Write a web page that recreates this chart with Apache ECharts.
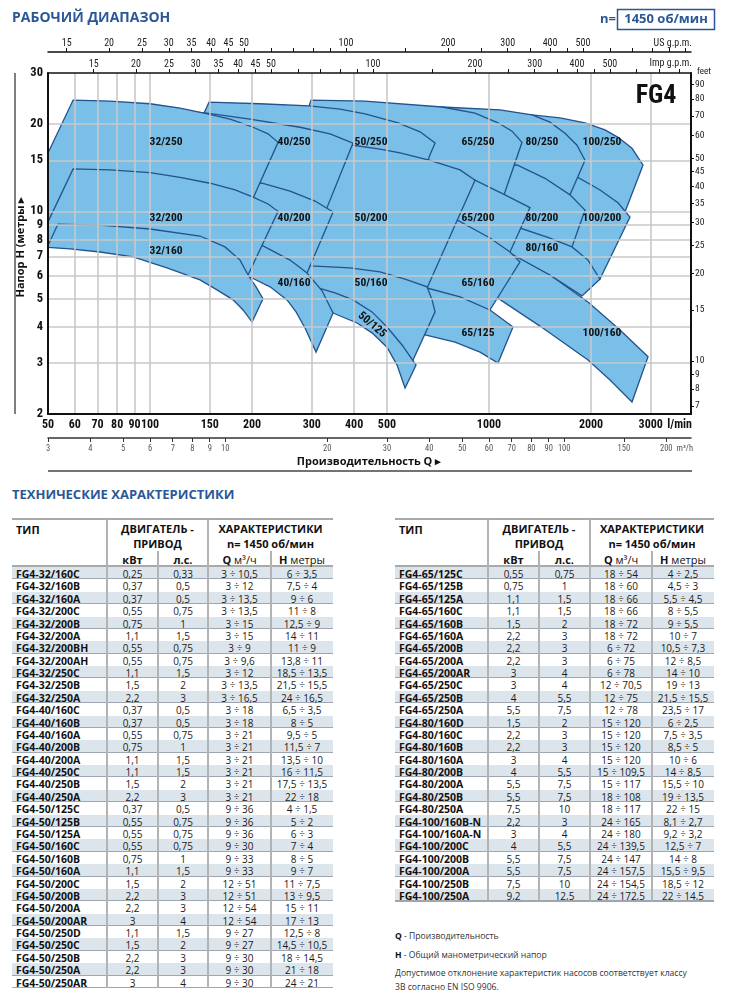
<!DOCTYPE html>
<html><head><meta charset="utf-8">
<script src="https://cdn.jsdelivr.net/npm/echarts@6/dist/echarts.min.js"></script>
<style>
html,body{margin:0;padding:0;background:#fff;}
body{width:730px;height:1002px;position:relative;overflow:hidden;font-family:'Open Sans',sans-serif;color:#111;}
#chart{position:absolute;left:0;top:0;width:730px;height:480px;}
.t{position:absolute;white-space:nowrap;}
</style></head>
<body>
<div id="chart"></div>
<script>
// ---------- axis ticks / labels ----------
const qLabels = [50,60,70,80,90,100,150,200,300,400,500,1000,2000,3000];
const qGrid = [60,70,80,90,100,150,200,300,400,500,1000,2000,3000];
const hLabels = [2,3,4,5,6,7,8,9,10,15,20,30];
const hGrid = [3,4,5,6,7,8,9,10,15,20];
const usLabels = [15,20,25,30,35,40,45,50,100,200,300,400,500];
const usTicks = [15,20,25,30,35,40,45,50,60,70,80,90,100,150,200,250,300,350,400,450,500,600,700,800,900,1000];
const impLabels = [15,20,25,30,35,40,45,50,100,200,300,400,500];
const impTicks = [15,20,25,30,35,40,45,50,60,70,80,90,100,150,200,250,300,350,400,450,500,600,700,800];
const m3hLabels = [3,4,5,6,7,8,9,10,20,30,40,50,60,70,80,90,100,150,200];
const feetLabels = [7,8,9,10,15,20,25,30,35,40,45,50,60,70,80,90];

// ---------- regions: [Q l/min, H m] ----------
const r32_250 = [[48.7,14.9],[59.3,24.2],[76.2,24.0],[100,23.5],[122.6,22.7],[144.3,21.8],[172.2,20.8],[201.4,19.5],[222.9,18.5],[238.6,17.3],[202.7,11.3],[194.6,10.3],[140.4,11.0],[100,11.6],[71.2,10.9],[54.3,9.5],[48.7,8.35]];
const r32_200 = [[48.7,8.62],[59.3,14.0],[76.2,13.9],[100,13.6],[122.6,13.1],[150.3,12.5],[178.2,11.85],[201.4,11.2],[222.9,10.6],[238.6,10.0],[194.6,6.03],[186.8,5.49],[140.4,6.63],[100,7.54],[71.2,7.84],[54.3,7.72],[50,7.54],[48.7,7.42]];
const r32_160 = [[49.7,7.51],[53.5,9.04],[71.2,8.97],[100,8.69],[140.4,8.22],[166.4,7.54],[184.3,6.79],[194.6,6.03],[205.5,5.49],[215.4,4.99],[200,4.15],[188.1,4.57],[175.8,4.95],[157.6,5.36],[140.4,5.80],[112.2,6.38],[89.1,6.96],[71.2,7.24],[58.1,7.42]];
const r40_250 = [[100,11.4],[100,22.4],[122.6,22.2],[147.3,21.8],[197.3,20.8],[276.9,19.5],[339.7,18.5],[397,17.2],[332.8,10.3],[321.7,9.19],[241.8,10.4],[184.3,10.9]];
const r40_200 = [[100,7.36],[100,13.0],[140.4,12.9],[184.3,12.8],[214,12.5],[258.9,11.75],[306.7,10.85],[346.7,9.95],[290.5,6.13],[280.7,5.57],[226,6.58],[184.3,7.01]];
const r40_160 = [[100,7.07],[100,9.19],[140.4,8.76],[184.3,8.16],[215.4,7.60],[258.9,6.79],[290.5,6.13],[321.7,5.32],[346.7,4.46],[308.8,3.27],[286.6,3.96],[269.6,4.50],[253.6,4.95],[226,5.49],[200,5.89],[160.9,6.53]];
const r50_250 = [[128.6,16.3],[149.3,23.8],[211.1,23.5],[294.5,23.1],[363.6,22.5],[430.8,21.7],[539.2,20.2],[626,18.8],[693.2,17.2],[665.5,15.4],[652.1,14.3],[546.5,15.0],[397,15.6],[276.9,16.3]];
const r50_200 = [[149.3,17.6],[211.1,17.3],[276.9,17.3],[339.7,17.2],[397,16.9],[476.9,16.4],[546.5,15.9],[670,15.0],[821.3,13.9],[909.4,12.8],[656.5,5.44],[634.6,5.03],[476.9,5.57],[339.7,5.80],[211.1,6.79]];
const r50_160 = [[233.8,5.57],[226,6.69],[296.5,6.48],[389,6.38],[476.9,6.18],[565.4,5.84],[656.5,5.49],[679.2,4.95],[693.2,4.50],[597,3.07],[584.9,2.88],[493.4,3.75],[402.5,4.50],[328.3,4.95]];
const r50_125 = [[267.7,4.95],[267.7,5.57],[313,5.44],[351.4,5.23],[397,4.95],[451.7,4.50],[500.2,3.99],[554,3.46],[609.2,2.95],[565.4,2.46],[535.5,2.95],[500.2,3.40],[451.7,3.81],[408,4.12],[346.7,4.46],[296.5,4.64]];
const r65_250 = [[248.5,12.8],[298.5,24.2],[430.8,24.0],[726.9,22.9],[909.4,21.8],[1063,20.2],[1169.1,18.9],[1251.2,17.3],[1114.8,11.66],[1077.6,10.5],[821.3,11.4],[546.5,12.3]];
const r65_200 = [[363.6,13.3],[546.5,13.1],[767.4,13.0],[909.4,12.8],[1114.8,11.4],[1321.1,10.3],[1153.3,7.24],[1114.8,6.69],[879,7.66],[670,7.97]];
const r65_160 = [[546.5,5.15],[546.5,9.19],[804.7,9.34],[1006.8,8.09],[1153.3,7.24],[1234.3,6.69],[1006.8,4.57],[993.2,4.36],[821.3,4.75],[670,5.11]];
const r65_125 = [[546.5,3.90],[546.5,5.57],[656.5,5.44],[821.3,5.07],[1006.8,4.57],[1177,3.99],[1063,3.0],[940.8,3.27],[793.9,3.54],[647.6,3.75]];
const r80_250 = [[339.7,22.0],[546.5,22.4],[726.9,22.9],[1077.6,22.4],[1339.2,21.5],[1513.3,20.3],[1675.9,18.6],[1818,16.9],[1919.7,15.0],[1733.8,11.4],[1687,10.5],[1234.3,12.8],[767.4,12.3]];
const r80_200 = [[717.1,13.9],[1006.8,14.2],[1209.4,14.45],[1462.8,13.0],[1733.8,11.4],[1919.7,10.1],[1757.5,7.54],[1710.4,6.96],[1414,7.66],[1077.6,8.29]];
const r80_160 = [[879,8.49],[1234.3,8.76],[1513.3,8.09],[1757.5,7.54],[1959.2,6.79],[2125.6,5.84],[1881,5.11],[1513.3,6.03],[1153.3,7.18],[940.8,7.36]];
const r100_250 = [[626,12.8],[626,21.5],[940.8,21.7],[1339.2,21.5],[1620.1,21.0],[1919.7,20.2],[2199,19.1],[2402,18.0],[2641.5,16.5],[2847.1,14.45],[2518.9,9.95],[2434.8,8.97],[1830.6,11.85],[1234.3,13.0]];
const r100_200 = [[1077.6,12.8],[1830.6,13.1],[2125.6,11.85],[2402,10.7],[2605.8,9.56],[2125.6,5.84],[1986,5.71],[1414,7.36],[1077.6,7.66]];
const r100_160 = [[879,7.07],[1153.3,7.18],[1513.3,6.03],[1959.2,4.87],[2434.8,3.90],[2945.6,3.15],[2641.5,2.20],[2275,2.62],[1959.2,3.07],[1414,4.02],[1027.5,5.15],[909.4,5.36]];

// drawing order: bottom first
const regionShapes = [r100_250,r100_200,r100_160,r80_250,r80_200,r80_160,r65_250,r65_200,r65_160,r65_125,r50_250,r50_200,r50_160,r50_125,r40_250,r40_200,r40_160,r32_250,r32_200,r32_160];

// labels: [text, Q, H, rotation(deg)]
const regionLabels = [
 ['32/250',111.5,17.3,0],['40/250',266,17.3,0],['50/250',448.7,17.3,0],['65/250',928,17.3,0],['80/250',1433,17.3,0],['100/250',2154,17.3,0],
 ['32/200',111.5,9.49,0],['40/200',266,9.49,0],['50/200',448.7,9.49,0],['65/200',928,9.49,0],['80/200',1433,9.49,0],['100/200',2154,9.49,0],
 ['32/160',111.5,7.30,0],['40/160',266,5.66,0],['50/160',448.7,5.66,0],['65/160',928,5.66,0],['80/160',1433,7.48,0],['100/160',2154,3.81,0],
 ['65/125',928,3.81,0],['50/125',451.7,4.06,-40]
];

// ---------- table data ----------
const leftRows = [
 ['FG4-32/160C','0,25','0,33','3 ÷ 10,5','6 ÷ 3,5'],
 ['FG4-32/160B','0,37','0,5','3 ÷ 12','7,5 ÷ 4'],
 ['FG4-32/160A','0,37','0,5','3 ÷ 13,5','9 ÷ 6'],
 ['FG4-32/200C','0,55','0,75','3 ÷ 13,5','11 ÷ 8'],
 ['FG4-32/200B','0,75','1','3 ÷ 15','12,5 ÷ 9'],
 ['FG4-32/200A','1,1','1,5','3 ÷ 15','14 ÷ 11'],
 ['FG4-32/200BH','0,55','0,75','3 ÷ 9','11 ÷ 9'],
 ['FG4-32/200AH','0,55','0,75','3 ÷ 9,6','13,8 ÷ 11'],
 ['FG4-32/250C','1,1','1,5','3 ÷ 12','18,5 ÷ 13,5'],
 ['FG4-32/250B','1,5','2','3 ÷ 13,5','21,5 ÷ 15,5'],
 ['FG4-32/250A','2,2','3','3 ÷ 16,5','24 ÷ 16,5'],
 ['FG4-40/160C','0,37','0,5','3 ÷ 18','6,5 ÷ 3,5'],
 ['FG4-40/160B','0,37','0,5','3 ÷ 18','8 ÷ 5'],
 ['FG4-40/160A','0,55','0,75','3 ÷ 21','9,5 ÷ 5'],
 ['FG4-40/200B','0,75','1','3 ÷ 21','11,5 ÷ 7'],
 ['FG4-40/200A','1,1','1,5','3 ÷ 21','13,5 ÷ 10'],
 ['FG4-40/250C','1,1','1,5','3 ÷ 21','16 ÷ 11,5'],
 ['FG4-40/250B','1,5','2','3 ÷ 21','17,5 ÷ 13,5'],
 ['FG4-40/250A','2,2','3','3 ÷ 21','22 ÷ 18'],
 ['FG4-50/125C','0,37','0,5','9 ÷ 36','4 ÷ 1,5'],
 ['FG4-50/125B','0,55','0,75','9 ÷ 36','5 ÷ 2'],
 ['FG4-50/125A','0,55','0,75','9 ÷ 36','6 ÷ 3'],
 ['FG4-50/160C','0,55','0,75','9 ÷ 30','7 ÷ 4'],
 ['FG4-50/160B','0,75','1','9 ÷ 33','8 ÷ 5'],
 ['FG4-50/160A','1,1','1,5','9 ÷ 33','9 ÷ 7'],
 ['FG4-50/200C','1,5','2','12 ÷ 51','11 ÷ 7,5'],
 ['FG4-50/200B','2,2','3','12 ÷ 51','13 ÷ 9,5'],
 ['FG4-50/200A','2,2','3','12 ÷ 54','15 ÷ 11'],
 ['FG4-50/200AR','3','4','12 ÷ 54','17 ÷ 13'],
 ['FG4-50/250D','1,1','1,5','9 ÷ 27','12,5 ÷ 8'],
 ['FG4-50/250C','1,5','2','9 ÷ 27','14,5 ÷ 10,5'],
 ['FG4-50/250B','2,2','3','9 ÷ 30','18 ÷ 14,5'],
 ['FG4-50/250A','2,2','3','9 ÷ 30','21 ÷ 18'],
 ['FG4-50/250AR','3','4','9 ÷ 30','24 ÷ 21']
];
const rightRows = [
 ['FG4-65/125C','0,55','0,75','18 ÷ 54','4 ÷ 2,5'],
 ['FG4-65/125B','0,75','1','18 ÷ 60','4,5 ÷ 3'],
 ['FG4-65/125A','1,1','1,5','18 ÷ 66','5,5 ÷ 4,5'],
 ['FG4-65/160C','1,1','1,5','18 ÷ 66','8 ÷ 5,5'],
 ['FG4-65/160B','1,5','2','18 ÷ 72','9 ÷ 5,5'],
 ['FG4-65/160A','2,2','3','18 ÷ 72','10 ÷ 7'],
 ['FG4-65/200B','2,2','3','6 ÷ 72','10,5 ÷ 7,3'],
 ['FG4-65/200A','2,2','3','6 ÷ 75','12 ÷ 8,5'],
 ['FG4-65/200AR','3','4','6 ÷ 78','14 ÷ 10'],
 ['FG4-65/250C','3','4','12 ÷ 70,5','19 ÷ 13'],
 ['FG4-65/250B','4','5,5','12 ÷ 75','21,5 ÷ 15,5'],
 ['FG4-65/250A','5,5','7,5','12 ÷ 78','23,5 ÷ 17'],
 ['FG4-80/160D','1,5','2','15 ÷ 120','6 ÷ 2,5'],
 ['FG4-80/160C','2,2','3','15 ÷ 120','7,5 ÷ 3,5'],
 ['FG4-80/160B','2,2','3','15 ÷ 120','8,5 ÷ 5'],
 ['FG4-80/160A','3','4','15 ÷ 120','10 ÷ 6'],
 ['FG4-80/200B','4','5,5','15 ÷ 109,5','14 ÷ 8,5'],
 ['FG4-80/200A','5,5','7,5','15 ÷ 117','15,5 ÷ 10'],
 ['FG4-80/250B','5,5','7,5','18 ÷ 108','19 ÷ 13,5'],
 ['FG4-80/250A','7,5','10','18 ÷ 117','22 ÷ 15'],
 ['FG4-100/160B-N','2,2','3','24 ÷ 165','8,1 ÷ 2,7'],
 ['FG4-100/160A-N','3','4','24 ÷ 180','9,2 ÷ 3,2'],
 ['FG4-100/200C','4','5,5','24 ÷ 139,5','12,5 ÷ 7'],
 ['FG4-100/200B','5,5','7,5','24 ÷ 147','14 ÷ 8'],
 ['FG4-100/200A','5,5','7,5','24 ÷ 157,5','15,5 ÷ 9,5'],
 ['FG4-100/250B','7,5','10','24 ÷ 154,5','18,5 ÷ 12'],
 ['FG4-100/250A','9,2','12,5','24 ÷ 172,5','22 ÷ 14,5']
];

// ---------- unit conversion constants ----------
const QMIN = 50, QMAX = 3944, HMIN = 2, HMAX = 30;
const US = 3.78541, IMP = 4.54609, M3H = 0.06, FT = 3.28084;

const NARROW = "'Liberation Sans Narrow','Arial Narrow','Roboto Condensed','DejaVu Sans Condensed',Roboto,sans-serif";
const BLUE = '#2b5797';
const plain = v => String(Math.round(v * 1000) / 1000);

const chart = echarts.init(document.getElementById('chart'), null, {renderer:'canvas'});

function smallAxis(extra) {
  return Object.assign({
    type:'log', gridIndex:0, z:3,
    axisLine:{show:true, onZero:false, lineStyle:{color:'#111', width:1.5}},
    splitLine:{show:false}
  }, extra);
}

const option = {
  animation:false,
  grid:{left:48, top:73, width:643, height:341, containLabel:false},
  xAxis:[
    {type:'log', min:QMIN, max:QMAX, position:'bottom', z:3,
     axisLine:{show:true, onZero:false, lineStyle:{color:'#111', width:2}},
     axisTick:{show:false, customValues:qGrid},
     splitLine:{show:true, lineStyle:{color:'#c8c8c8', width:1.6}},
     axisLabel:{customValues:qLabels, formatter:plain, margin:5, fontFamily:NARROW, fontWeight:'bold', fontSize:12, color:'#111'}},
    smallAxis({min:QMIN/IMP, max:QMAX/IMP, position:'top', offset:0,
     axisTick:{show:true, customValues:impTicks, length:4, lineStyle:{color:'#111', width:1}},
     axisLabel:{customValues:impLabels, formatter:plain, margin:4, fontFamily:NARROW, fontSize:10, color:'#222'}}),
    smallAxis({min:QMIN/US, max:QMAX/US, position:'top', offset:21,
     axisTick:{show:true, customValues:usTicks, length:4, lineStyle:{color:'#111', width:1}},
     axisLabel:{customValues:usLabels, formatter:plain, margin:4, fontFamily:NARROW, fontSize:10, color:'#222'}}),
    smallAxis({min:QMIN*M3H, max:QMAX*M3H, position:'bottom', offset:24,
     axisLine:{show:true, onZero:false, lineStyle:{color:'#333', width:1.5}},
     axisTick:{show:true, customValues:m3hLabels, length:4, lineStyle:{color:'#333', width:1}},
     axisLabel:{customValues:m3hLabels, formatter:plain, margin:6, fontFamily:NARROW, fontSize:8.5, color:'#555'}})
  ],
  yAxis:[
    {type:'log', min:HMIN, max:HMAX, position:'left', z:3,
     axisLine:{show:true, onZero:false, lineStyle:{color:'#111', width:2}},
     axisTick:{show:false, customValues:hGrid},
     splitLine:{show:true, lineStyle:{color:'#c8c8c8', width:1.6}},
     axisLabel:{customValues:hLabels, formatter:plain, margin:5, fontFamily:NARROW, fontWeight:'bold', fontSize:12.5, color:'#111'}},
    smallAxis({min:HMIN*FT, max:HMAX*FT, position:'right',
     axisLine:{show:true, onZero:false, lineStyle:{color:'#111', width:2}},
     axisTick:{show:true, customValues:feetLabels, length:3, lineStyle:{color:'#111', width:1}},
     axisLabel:{customValues:feetLabels, formatter:plain, margin:4, fontFamily:NARROW, fontSize:9.5, color:'#222'}})
  ],
  series:[
    {type:'custom', name:'regions', coordinateSystem:'cartesian2d', xAxisIndex:0, yAxisIndex:0, clip:true, z:2,
     data: regionShapes.map(s => [s[1][0], s[1][1]]),
     renderItem:function(params, api){
       const pts = regionShapes[params.dataIndex].map(p => api.coord(p));
       return {type:'polygon', shape:{points:pts},
         style:{fill:'#79bfe8', stroke:'#23528f', lineWidth:1.3, lineJoin:'miter', miterLimit:3}};
     }},
    {type:'custom', name:'labels', coordinateSystem:'cartesian2d', xAxisIndex:0, yAxisIndex:0, z:5,
     data: regionLabels.map(l => [l[1], l[2]]),
     renderItem:function(params, api){
       const l = regionLabels[params.dataIndex];
       const c = api.coord([l[1], l[2]]);
       return {type:'text', x:c[0], y:c[1], rotation:l[3]*Math.PI/180,
         style:{text:l[0], font:'bold 11.5px ' + NARROW, fill:'#111', align:'center', verticalAlign:'middle', textAlign:'center', textVerticalAlign:'middle'}};
     }}
  ],
  graphic:[
    {type:'text', x:12, y:18, z:10, style:{text:'РАБОЧИЙ ДИАПАЗОН', font:"bold 14px 'Open Sans'", fill:BLUE, align:'left', verticalAlign:'middle', textAlign:'left', textVerticalAlign:'middle'}},
    {type:'text', x:616, y:19.5, z:10, style:{text:'n=', font:"bold 13px 'Open Sans'", fill:BLUE, align:'right', verticalAlign:'middle', textAlign:'right', textVerticalAlign:'middle'}},
    {type:'rect', z:10, shape:{x:617.5, y:9.5, width:97, height:20}, style:{fill:'#fff', stroke:BLUE, lineWidth:1.5}},
    {type:'text', x:666, y:19.5, z:11, style:{text:'1450 об/мин', font:"bold 13px 'Open Sans'", fill:BLUE, align:'center', verticalAlign:'middle', textAlign:'center', textVerticalAlign:'middle'}},
    {type:'text', x:656, y:96, z:10, style:{text:'FG4', font:'bold 26px ' + NARROW, fill:'#111', align:'center', verticalAlign:'middle', textAlign:'center', textVerticalAlign:'middle'}},
    {type:'text', x:692, y:43, z:10, style:{text:'US g.p.m.', font:'10px ' + NARROW, fill:'#222', align:'right', verticalAlign:'middle', textAlign:'right', textVerticalAlign:'middle'}},
    {type:'text', x:692, y:63, z:10, style:{text:'Imp g.p.m.', font:'10px ' + NARROW, fill:'#222', align:'right', verticalAlign:'middle', textAlign:'right', textVerticalAlign:'middle'}},
    {type:'text', x:697, y:72, z:10, style:{text:'feet', font:'9px ' + NARROW, fill:'#222', align:'left', verticalAlign:'middle', textAlign:'left', textVerticalAlign:'middle'}},
    {type:'text', x:692, y:425, z:10, style:{text:'l/min', font:'bold 12px ' + NARROW, fill:'#111', align:'right', verticalAlign:'middle', textAlign:'right', textVerticalAlign:'middle', backgroundColor:'#fff'}},
    {type:'text', x:693, y:449, z:10, style:{text:'m³/h', font:'8.5px ' + NARROW, fill:'#555', align:'right', verticalAlign:'middle', textAlign:'right', textVerticalAlign:'middle', backgroundColor:'#fff'}},
    {type:'text', x:369, y:461.5, z:10, style:{text:'Производительность Q ▸', font:"bold 11px 'Open Sans'", fill:'#111', align:'center', verticalAlign:'middle', textAlign:'center', textVerticalAlign:'middle'}},
    {type:'line', z:10, shape:{x1:48, y1:471, x2:692, y2:471}, style:{stroke:'#444', lineWidth:1.5}},
    {type:'line', z:10, shape:{x1:15, y1:73, x2:15, y2:414}, style:{stroke:'#555', lineWidth:1.5}},
    {type:'text', x:21, y:247, rotation:Math.PI/2, z:10, style:{text:'Напор H (метры ▸', font:"bold 11px 'Open Sans'", fill:'#111', align:'center', verticalAlign:'middle', textAlign:'center', textVerticalAlign:'middle'}}
  ]
};
chart.setOption(option);

// ---------- tables ----------
const RH = 12.38, ROW0 = 567;
function add(css, html) {
  const d = document.createElement('div');
  d.className = 't';
  d.style.cssText = css;
  if (html != null) d.innerHTML = html;
  document.body.appendChild(d);
  return d;
}
function buildTable(b, rows) {
  const W = b[5] - b[0];
  const end = ROW0 + rows.length * RH;
  rows.forEach((r, i) => {
    const top = ROW0 + i * RH;
    if (i % 2 === 0) {
      add(`left:${b[0]}px;top:${top}px;width:${W}px;height:${RH}px;background:#dde5ec;`);
      add(`left:${b[0]}px;top:${top + RH - 1}px;width:${W}px;height:1px;background:#9ea7b1;`);
    }
    add(`left:${b[0] + 4}px;top:${top}px;height:${RH}px;line-height:${RH}px;font:bold 10.5px 'Open Sans';color:#111;`, r[0]);
    for (let c = 1; c <= 4; c++) {
      add(`left:${b[c]}px;width:${b[c + 1] - b[c]}px;top:${top}px;height:${RH}px;line-height:${RH}px;text-align:center;font:10px 'Open Sans';color:#1a1a1a;`, r[c]);
    }
  });
  add(`left:${b[0]}px;top:${end - 1}px;width:${W}px;height:1.5px;background:#9ea7b1;`);
  // header
  add(`left:${b[0]}px;top:518px;width:${W}px;height:2px;background:#a9a9a9;`);
  add(`left:${b[0]}px;top:565px;width:${W}px;height:2px;background:#a9a9a9;`);
  add(`left:${b[0] + 4}px;top:522px;line-height:13px;font:bold 11px 'Open Sans';color:#111;`, 'ТИП');
  const hdr = (xa, xb, y, html, w) => add(`left:${xa}px;width:${xb - xa}px;top:${y - 7}px;height:14px;line-height:14px;text-align:center;font:${w} 11px 'Open Sans';color:#111;`, html);
  hdr(b[1], b[3], 528, 'ДВИГАТЕЛЬ -', 'bold');
  hdr(b[1], b[3], 543, 'ПРИВОД', 'bold');
  hdr(b[3], b[5], 528, 'ХАРАКТЕРИСТИКИ', 'bold');
  hdr(b[3], b[5], 543, 'n= 1450 об/мин', 'bold');
  hdr(b[1], b[2], 559, 'кВт', 'bold');
  hdr(b[2], b[3], 559, 'л.с.', 'bold');
  hdr(b[3], b[4], 559, '<b>Q</b> м³/ч', 'normal');
  hdr(b[4], b[5], 559, '<b>H</b> метры', 'normal');
  // vertical lines
  add(`left:${b[1] - 0.75}px;top:519px;width:1.5px;height:${end - 519}px;background:#b3b3b3;`);
  add(`left:${b[3] - 0.75}px;top:519px;width:1.5px;height:${end - 519}px;background:#b3b3b3;`);
  add(`left:${b[2] - 0.75}px;top:551px;width:1.5px;height:${end - 551}px;background:#b3b3b3;`);
  add(`left:${b[4] - 0.75}px;top:551px;width:1.5px;height:${end - 551}px;background:#b3b3b3;`);
}
add(`left:12px;top:485px;line-height:18px;font:bold 13px 'Open Sans';color:${BLUE};`, 'ТЕХНИЧЕСКИЕ ХАРАКТЕРИСТИКИ');
buildTable([12,107,158,208,271,333], leftRows);
buildTable([395,488,539,590,652,714], rightRows);
add(`left:395px;top:930px;line-height:14px;font:8.6px 'Open Sans';color:#333;`, '<b style="color:#111">Q</b> - Производительность');
add(`left:395px;top:949px;line-height:14px;font:8.6px 'Open Sans';color:#333;`, '<b style="color:#111">H</b> - Общий манометрический напор');
add(`left:395px;top:967px;line-height:14px;font:8.6px 'Open Sans';color:#333;`, 'Допустимое отклонение характеристик насосов соответствует классу');
add(`left:395px;top:981px;line-height:14px;font:8.6px 'Open Sans';color:#333;`, '3B согласно EN ISO 9906.');
</script>
</body></html>
